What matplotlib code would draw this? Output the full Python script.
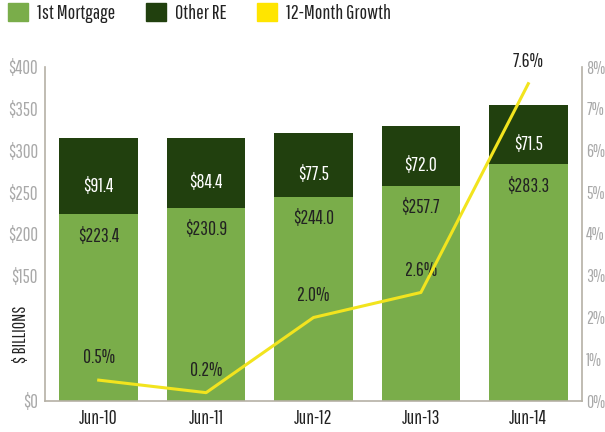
import matplotlib
matplotlib.use("Agg")
import matplotlib.pyplot as plt
from matplotlib.patches import Patch

plt.rcParams['font.family'] = ['Pathway Gothic One', 'Barlow Condensed', 'DejaVu Sans']

categories = ["Jun-10", "Jun-11", "Jun-12", "Jun-13", "Jun-14"]
first_mortgage = [223.4, 230.9, 244.0, 257.7, 283.3]
other_re = [91.4, 84.4, 77.5, 72.0, 71.5]
growth = [0.5, 0.2, 2.0, 2.6, 7.6]
left_ticks = [0, 50, 100, 150, 200, 250, 300, 350, 400]
left_labels = ["$0", "", "", "$150", "$200", "$250", "$300", "$350", "$400"]
right_ticks = [0, 1, 2, 3, 4, 5, 6, 7, 8]
series_names = ["1st Mortgage", "Other RE", "12-Month Growth"]

light = "#7aad4a"
dark = "#21400e"
yellow = "#f2e41e"
grey = "#a9a9a9"
txt = "#222222"
fs = 14

fig = plt.figure(figsize=(6.05, 4.32), dpi=100)
ax = fig.add_axes([45/605, 1-401/432, 537/605, 334/432])
x = list(range(len(categories)))
w = 0.73
ax.bar(x, first_mortgage, w, color=light, zorder=2)
ax.bar(x, other_re, w, bottom=first_mortgage, color=dark, zorder=2)
for i in x:
    ax.text(i, first_mortgage[i] - 26, f"${first_mortgage[i]:.1f}", ha='center', va='center',
            color=txt, fontsize=fs, zorder=5)
    ax.text(i, first_mortgage[i] + other_re[i]/2 - 12, f"${other_re[i]:.1f}", ha='center', va='center',
            color='white', fontsize=fs, zorder=5)
ax.set_xlim(-0.5, 4.5)
ax.set_ylim(0, 400)
ax.set_yticks(left_ticks)
ax.set_yticklabels(left_labels)
ax.set_xticks(x)
ax.set_xticklabels(categories)
for s in ['top', 'right']:
    ax.spines[s].set_visible(False)
for s in ['left', 'bottom']:
    ax.spines[s].set_color("#b5b0a5")
    ax.spines[s].set_linewidth(1.2)
ax.tick_params(axis='y', length=0, colors=grey, labelsize=13.5, pad=5)
ax.tick_params(axis='x', length=0, labelcolor=txt, labelsize=fs, pad=6)
ax.set_ylabel("$ BILLIONS", fontsize=13, color=txt)
ax.yaxis.set_label_coords(-0.03, 0.2)

ax2 = ax.twinx()
ax2.plot(x, growth, color=yellow, lw=2.2, zorder=4)
for i in x:
    ax2.annotate(f"{growth[i]:.1f}%", (i, growth[i]), xytext=(0, 16), textcoords='offset points',
                 ha='center', va='center', color=txt, fontsize=fs)
ax2.set_ylim(0, 8)
ax2.set_yticks(right_ticks)
ax2.set_yticklabels([f"{v}%" for v in right_ticks])
for s in ['top', 'left', 'bottom']:
    ax2.spines[s].set_visible(False)
ax2.spines['right'].set_color("#b5b0a5")
ax2.spines['right'].set_linewidth(1.2)
ax2.tick_params(axis='y', length=0, colors=grey, labelsize=12.5, pad=3)

handles = [Patch(color=light), Patch(color=dark), Patch(color="#ffe500")]
fig.legend(handles, series_names, loc='upper left',
           bbox_to_anchor=(8/605, 1-3/432), ncol=3, frameon=False, fontsize=14.5,
           handlelength=1.0, handleheight=1.0, columnspacing=1.5, handletextpad=0.45,
           borderpad=0, borderaxespad=0, labelcolor=txt)
fig.savefig("out.png", dpi=100)
